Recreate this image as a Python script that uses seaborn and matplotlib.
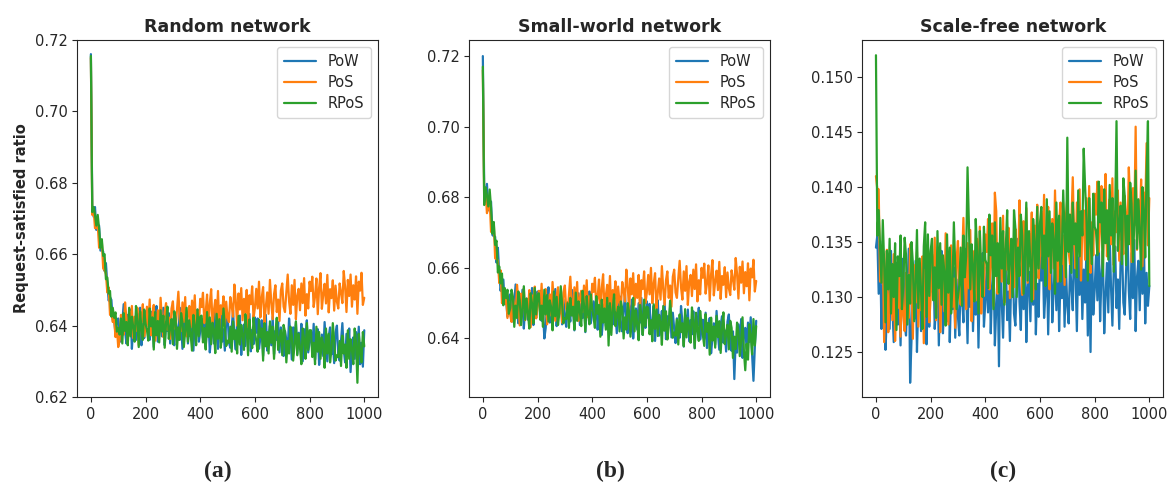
import matplotlib
matplotlib.use("Agg")
import matplotlib.pyplot as plt
import pandas as pd
import numpy as np
import seaborn as sns

sns.set_style("ticks")
plt.rcParams['font.family'] = ['DejaVu Sans']

## Simulation steps (sampled every 5 steps)
steps = [0] + list(range(5, 1001, 5))

methods = ["PoW", "PoS", "RPoS"]
colors = ["#1f77b4", "#ff7f0e", "#2ca02c"]

## Random network, ratio x 10000
rand_pow = [7160,
    6737, 6705, 6732, 6668, 6680, 6680, 6610, 6613, 6607, 6553, 6575, 6518, 6470, 6480, 6472, 6415, 6417, 6378, 6415, 6420,
    6370, 6355, 6410, 6460, 6385, 6350, 6430, 6375, 6445, 6335, 6400, 6420, 6360, 6435, 6380, 6450, 6345, 6405, 6365, 6440,
    6405, 6445, 6360, 6390, 6440, 6340, 6415, 6455, 6355, 6395, 6425, 6370, 6450, 6345, 6410, 6385, 6435, 6350, 6420, 6375,
    6345, 6415, 6390, 6360, 6450, 6405, 6335, 6425, 6380, 6440, 6350, 6410, 6370, 6435, 6330, 6420, 6395, 6445, 6355, 6385,
    6420, 6365, 6440, 6340, 6395, 6425, 6325, 6370, 6410, 6350, 6445, 6380, 6335, 6405, 6430, 6355, 6390, 6330, 6415, 6435,
    6353, 6338, 6393, 6443, 6368, 6333, 6413, 6358, 6428, 6318, 6383, 6403, 6343, 6418, 6363, 6433, 6328, 6388, 6348, 6423,
    6380, 6420, 6335, 6365, 6415, 6315, 6390, 6430, 6330, 6370, 6400, 6345, 6425, 6320, 6385, 6360, 6410, 6325, 6395, 6350,
    6315, 6385, 6360, 6330, 6420, 6375, 6305, 6395, 6350, 6410, 6320, 6380, 6340, 6405, 6300, 6390, 6365, 6415, 6325, 6355,
    6385, 6330, 6405, 6305, 6360, 6390, 6290, 6335, 6375, 6315, 6410, 6345, 6300, 6370, 6395, 6320, 6355, 6295, 6380, 6400,
    6317, 6302, 6357, 6407, 6332, 6297, 6377, 6322, 6392, 6270, 6347, 6367, 6307, 6382, 6327, 6397, 6292, 6352, 6285, 6387]
rand_pos = [7150,
    6710, 6725, 6673, 6673, 6682, 6618, 6635, 6635, 6560, 6555, 6545, 6493, 6507, 6430, 6442, 6410, 6420, 6368, 6397, 6340,
    6360, 6430, 6405, 6375, 6465, 6420, 6350, 6440, 6395, 6455, 6365, 6425, 6385, 6450, 6345, 6435, 6410, 6460, 6370, 6400,
    6453, 6398, 6473, 6373, 6428, 6458, 6358, 6403, 6443, 6383, 6478, 6413, 6368, 6438, 6463, 6388, 6423, 6363, 6448, 6468,
    6405, 6390, 6445, 6495, 6420, 6385, 6465, 6410, 6480, 6370, 6435, 6455, 6395, 6470, 6415, 6485, 6380, 6440, 6400, 6475,
    6452, 6492, 6407, 6437, 6487, 6387, 6462, 6502, 6402, 6442, 6472, 6417, 6497, 6392, 6457, 6432, 6482, 6397, 6467, 6422,
    6410, 6480, 6455, 6425, 6515, 6470, 6400, 6490, 6445, 6505, 6415, 6475, 6435, 6500, 6395, 6485, 6460, 6510, 6420, 6450,
    6503, 6448, 6523, 6423, 6478, 6508, 6408, 6453, 6493, 6433, 6528, 6463, 6418, 6488, 6513, 6438, 6473, 6413, 6498, 6518,
    6453, 6438, 6493, 6543, 6468, 6433, 6513, 6458, 6528, 6418, 6483, 6503, 6443, 6518, 6463, 6533, 6428, 6488, 6448, 6523,
    6497, 6537, 6452, 6482, 6532, 6432, 6507, 6547, 6447, 6487, 6517, 6462, 6542, 6437, 6502, 6477, 6527, 6442, 6512, 6467,
    6448, 6518, 6493, 6463, 6553, 6508, 6438, 6528, 6483, 6543, 6453, 6513, 6473, 6538, 6433, 6523, 6498, 6548, 6458, 6478]
rand_rpos = [7155,
    6718, 6732, 6710, 6680, 6710, 6672, 6618, 6642, 6595, 6600, 6530, 6535, 6490, 6497, 6425, 6450, 6422, 6437, 6383, 6393,
    6375, 6420, 6350, 6435, 6385, 6410, 6345, 6450, 6370, 6425, 6395, 6355, 6455, 6415, 6340, 6440, 6390, 6360, 6445, 6405,
    6388, 6358, 6448, 6398, 6423, 6333, 6438, 6373, 6413, 6353, 6443, 6383, 6428, 6338, 6408, 6453, 6363, 6393, 6418, 6348,
    6440, 6420, 6335, 6395, 6360, 6435, 6410, 6340, 6385, 6450, 6355, 6415, 6375, 6330, 6430, 6400, 6345, 6445, 6370, 6425,
    6428, 6353, 6393, 6333, 6438, 6368, 6423, 6348, 6408, 6388, 6323, 6433, 6363, 6418, 6338, 6373, 6448, 6398, 6343, 6358,
    6352, 6397, 6327, 6412, 6362, 6387, 6322, 6427, 6347, 6402, 6372, 6332, 6432, 6392, 6317, 6417, 6367, 6337, 6422, 6382,
    6357, 6327, 6417, 6367, 6392, 6302, 6407, 6342, 6382, 6322, 6412, 6352, 6397, 6307, 6377, 6422, 6332, 6362, 6387, 6317,
    6402, 6382, 6297, 6357, 6322, 6397, 6372, 6302, 6347, 6412, 6317, 6377, 6337, 6292, 6392, 6362, 6307, 6407, 6332, 6387,
    6387, 6312, 6352, 6292, 6397, 6327, 6382, 6307, 6367, 6347, 6282, 6392, 6322, 6377, 6297, 6332, 6407, 6357, 6302, 6317,
    6312, 6357, 6287, 6372, 6322, 6347, 6282, 6387, 6307, 6362, 6332, 6292, 6392, 6352, 6240, 6377, 6327, 6297, 6382, 6342]

## Small-world network, ratio x 10000
sw_pow = [7200,
    6825, 6791, 6838, 6763, 6787, 6788, 6693, 6690, 6688, 6615, 6657, 6586, 6535, 6564, 6567, 6499, 6514, 6462, 6516, 6525,
    6463, 6448, 6503, 6553, 6478, 6443, 6523, 6468, 6538, 6428, 6493, 6513, 6453, 6528, 6473, 6543, 6438, 6498, 6458, 6533,
    6495, 6535, 6450, 6480, 6400, 6430, 6505, 6545, 6445, 6485, 6515, 6460, 6540, 6435, 6500, 6475, 6525, 6440, 6510, 6465,
    6433, 6503, 6478, 6448, 6538, 6493, 6423, 6513, 6468, 6528, 6438, 6498, 6458, 6523, 6418, 6508, 6483, 6533, 6443, 6473,
    6505, 6450, 6525, 6425, 6480, 6510, 6410, 6455, 6495, 6435, 6530, 6465, 6420, 6490, 6515, 6440, 6475, 6415, 6500, 6520,
    6435, 6420, 6475, 6525, 6450, 6415, 6495, 6440, 6510, 6400, 6465, 6485, 6425, 6500, 6445, 6515, 6410, 6470, 6430, 6505,
    6458, 6498, 6413, 6443, 6493, 6393, 6468, 6508, 6408, 6448, 6478, 6423, 6503, 6398, 6463, 6438, 6488, 6403, 6473, 6428,
    6387, 6457, 6432, 6402, 6492, 6447, 6377, 6467, 6422, 6482, 6392, 6452, 6412, 6477, 6372, 6462, 6437, 6487, 6397, 6427,
    6453, 6398, 6473, 6373, 6428, 6458, 6358, 6403, 6443, 6383, 6478, 6413, 6368, 6438, 6463, 6388, 6423, 6363, 6448, 6468,
    6380, 6365, 6420, 6285, 6395, 6360, 6440, 6385, 6455, 6345, 6410, 6430, 6370, 6445, 6390, 6460, 6355, 6280, 6375, 6450]
sw_pos = [7160,
    6787, 6820, 6755, 6771, 6792, 6702, 6729, 6727, 6627, 6625, 6621, 6557, 6593, 6500, 6530, 6498, 6523, 6458, 6503, 6466,
    6447, 6517, 6492, 6462, 6552, 6507, 6437, 6527, 6482, 6542, 6452, 6512, 6472, 6537, 6432, 6522, 6497, 6547, 6457, 6487,
    6535, 6480, 6555, 6455, 6510, 6540, 6440, 6485, 6525, 6465, 6560, 6495, 6450, 6520, 6545, 6470, 6505, 6445, 6530, 6550,
    6485, 6470, 6525, 6575, 6500, 6465, 6545, 6490, 6560, 6450, 6515, 6535, 6475, 6550, 6495, 6565, 6460, 6520, 6480, 6555,
    6532, 6572, 6487, 6517, 6567, 6467, 6542, 6582, 6482, 6522, 6552, 6497, 6577, 6472, 6537, 6512, 6562, 6477, 6547, 6502,
    6490, 6560, 6535, 6505, 6595, 6550, 6480, 6570, 6525, 6585, 6495, 6555, 6515, 6580, 6475, 6565, 6540, 6590, 6500, 6530,
    6580, 6525, 6600, 6500, 6555, 6585, 6485, 6530, 6570, 6510, 6605, 6540, 6495, 6565, 6590, 6515, 6550, 6490, 6575, 6595,
    6530, 6515, 6570, 6620, 6545, 6510, 6590, 6535, 6605, 6495, 6560, 6580, 6520, 6595, 6540, 6610, 6505, 6565, 6525, 6600,
    6572, 6612, 6527, 6557, 6607, 6507, 6582, 6622, 6522, 6562, 6592, 6537, 6617, 6512, 6577, 6552, 6602, 6517, 6587, 6542,
    6523, 6593, 6568, 6538, 6628, 6583, 6513, 6603, 6558, 6618, 6528, 6588, 6548, 6613, 6508, 6598, 6573, 6623, 6533, 6563]
sw_rpos = [7170,
    6778, 6828, 6805, 6774, 6822, 6770, 6697, 6730, 6665, 6677, 6587, 6604, 6556, 6584, 6494, 6543, 6514, 6538, 6470, 6486,
    6538, 6518, 6433, 6493, 6458, 6533, 6508, 6438, 6483, 6548, 6453, 6513, 6473, 6428, 6528, 6498, 6443, 6543, 6468, 6523,
    6528, 6453, 6493, 6433, 6538, 6468, 6523, 6448, 6508, 6488, 6423, 6533, 6463, 6518, 6438, 6473, 6548, 6498, 6443, 6458,
    6455, 6500, 6430, 6515, 6465, 6490, 6425, 6530, 6450, 6505, 6475, 6435, 6535, 6495, 6420, 6520, 6470, 6440, 6525, 6485,
    6460, 6430, 6520, 6470, 6495, 6405, 6510, 6445, 6485, 6425, 6515, 6380, 6500, 6410, 6480, 6525, 6435, 6465, 6490, 6420,
    6505, 6485, 6400, 6460, 6425, 6500, 6475, 6405, 6450, 6515, 6420, 6480, 6440, 6395, 6495, 6465, 6410, 6510, 6435, 6490,
    6487, 6412, 6452, 6392, 6497, 6427, 6482, 6407, 6467, 6447, 6382, 6492, 6422, 6477, 6397, 6432, 6507, 6457, 6402, 6417,
    6408, 6453, 6383, 6468, 6418, 6443, 6378, 6483, 6403, 6458, 6428, 6388, 6488, 6448, 6373, 6473, 6423, 6393, 6478, 6438,
    6409, 6379, 6469, 6419, 6444, 6354, 6459, 6394, 6434, 6374, 6464, 6404, 6449, 6359, 6429, 6474, 6384, 6414, 6439, 6369,
    6450, 6430, 6345, 6405, 6370, 6445, 6420, 6350, 6395, 6460, 6365, 6310, 6385, 6340, 6440, 6410, 6355, 6455, 6380, 6435]

## Scale-free network, ratio x 10000
sf_pow = [1345,
    1356, 1303, 1351, 1271, 1308, 1327, 1252, 1286, 1316, 1271, 1342, 1293, 1259, 1312, 1331, 1275, 1301, 1256, 1319, 1335,
    1276, 1265, 1306, 1344, 1222, 1261, 1321, 1280, 1333, 1250, 1299, 1314, 1269, 1325, 1284, 1336, 1257, 1303, 1273, 1329,
    1305, 1335, 1271, 1293, 1331, 1256, 1312, 1342, 1267, 1297, 1319, 1278, 1338, 1259, 1308, 1289, 1327, 1263, 1316, 1282,
    1265, 1318, 1299, 1277, 1344, 1310, 1258, 1325, 1291, 1337, 1269, 1314, 1284, 1333, 1254, 1321, 1303, 1340, 1273, 1295,
    1327, 1286, 1342, 1267, 1309, 1331, 1256, 1290, 1320, 1237, 1346, 1297, 1263, 1316, 1335, 1279, 1305, 1260, 1323, 1339,
    1285, 1274, 1315, 1353, 1296, 1270, 1330, 1289, 1342, 1259, 1308, 1323, 1278, 1334, 1293, 1345, 1266, 1312, 1282, 1338,
    1315, 1345, 1281, 1303, 1341, 1266, 1322, 1352, 1277, 1307, 1329, 1288, 1348, 1269, 1318, 1299, 1337, 1273, 1326, 1292,
    1276, 1329, 1310, 1288, 1355, 1321, 1269, 1336, 1302, 1348, 1280, 1325, 1295, 1344, 1265, 1332, 1250, 1351, 1284, 1306,
    1338, 1297, 1353, 1278, 1320, 1342, 1267, 1301, 1331, 1286, 1357, 1308, 1274, 1327, 1346, 1290, 1316, 1271, 1334, 1350,
    1295, 1284, 1325, 1363, 1306, 1280, 1340, 1299, 1352, 1269, 1318, 1333, 1288, 1344, 1303, 1355, 1276, 1322, 1292, 1310]
sf_pos = [1410,
    1398, 1398, 1314, 1316, 1339, 1259, 1313, 1343, 1268, 1298, 1320, 1279, 1339, 1260, 1309, 1290, 1328, 1264, 1317, 1283,
    1269, 1322, 1303, 1281, 1348, 1314, 1262, 1329, 1295, 1341, 1273, 1318, 1288, 1337, 1258, 1325, 1307, 1344, 1277, 1299,
    1339, 1298, 1354, 1279, 1321, 1343, 1268, 1302, 1332, 1287, 1358, 1309, 1275, 1328, 1347, 1291, 1317, 1272, 1335, 1351,
    1304, 1293, 1334, 1372, 1315, 1289, 1349, 1308, 1361, 1278, 1327, 1342, 1297, 1353, 1312, 1364, 1285, 1331, 1301, 1357,
    1341, 1371, 1307, 1329, 1367, 1292, 1395, 1378, 1303, 1333, 1355, 1314, 1374, 1295, 1344, 1325, 1363, 1299, 1352, 1318,
    1309, 1362, 1343, 1321, 1388, 1354, 1302, 1369, 1335, 1381, 1313, 1358, 1328, 1377, 1298, 1365, 1347, 1384, 1317, 1339,
    1378, 1337, 1393, 1318, 1360, 1382, 1307, 1341, 1371, 1326, 1397, 1348, 1314, 1367, 1386, 1330, 1356, 1311, 1374, 1390,
    1341, 1330, 1371, 1409, 1352, 1326, 1386, 1345, 1398, 1315, 1364, 1379, 1334, 1390, 1349, 1401, 1322, 1368, 1338, 1394,
    1375, 1405, 1341, 1363, 1401, 1326, 1382, 1412, 1337, 1367, 1389, 1348, 1408, 1329, 1378, 1359, 1397, 1333, 1386, 1352,
    1339, 1392, 1373, 1351, 1418, 1384, 1332, 1399, 1365, 1455, 1343, 1388, 1358, 1407, 1328, 1395, 1377, 1440, 1347, 1390]
sf_rpos = [1520,
    1356, 1379, 1345, 1313, 1370, 1331, 1277, 1342, 1307, 1353, 1285, 1330, 1300, 1349, 1270, 1337, 1319, 1356, 1289, 1311,
    1354, 1338, 1275, 1320, 1294, 1350, 1331, 1278, 1312, 1361, 1290, 1335, 1305, 1271, 1346, 1368, 1282, 1357, 1301, 1342,
    1353, 1297, 1327, 1281, 1360, 1308, 1349, 1293, 1338, 1323, 1274, 1357, 1304, 1345, 1285, 1311, 1368, 1330, 1289, 1300,
    1311, 1345, 1292, 1356, 1318, 1337, 1418, 1367, 1307, 1348, 1326, 1296, 1371, 1341, 1285, 1360, 1322, 1300, 1364, 1334,
    1330, 1308, 1375, 1338, 1356, 1289, 1368, 1319, 1349, 1304, 1372, 1326, 1360, 1293, 1345, 1379, 1312, 1334, 1353, 1300,
    1379, 1363, 1300, 1345, 1319, 1375, 1356, 1303, 1337, 1386, 1315, 1360, 1330, 1296, 1371, 1349, 1307, 1382, 1326, 1367,
    1382, 1326, 1356, 1310, 1389, 1337, 1378, 1322, 1367, 1352, 1303, 1386, 1333, 1374, 1314, 1340, 1397, 1359, 1318, 1445,
    1341, 1375, 1322, 1386, 1348, 1367, 1318, 1397, 1337, 1378, 1356, 1435, 1401, 1371, 1315, 1390, 1352, 1330, 1394, 1364,
    1360, 1338, 1405, 1368, 1386, 1319, 1398, 1349, 1379, 1334, 1402, 1356, 1390, 1323, 1375, 1460, 1342, 1364, 1383, 1330,
    1408, 1392, 1329, 1374, 1348, 1404, 1385, 1332, 1366, 1415, 1344, 1389, 1359, 1325, 1400, 1378, 1336, 1411, 1460, 1310]

panels = [
    ("Random network", [rand_pow, rand_pos, rand_rpos], (0.62, 0.72), "(a)"),
    ("Small-world network", [sw_pow, sw_pos, sw_rpos], (0.6234, 0.7246), "(b)"),
    ("Scale-free network", [sf_pow, sf_pos, sf_rpos], (0.1209, 0.1534), "(c)"),
]


def make_frame(series):
    frames = []
    for name, vals in zip(methods, series):
        frames.append(pd.DataFrame({"step": steps,
                                    "ratio": np.array(vals) / 10000.0,
                                    "method": name}))
    return pd.concat(frames, ignore_index=True)


fig = plt.figure(figsize=(11.7, 4.86), dpi=100)
lefts = [0.066, 0.401, 0.737]
width = 0.257

for i, (title, series, ylim, tag) in enumerate(panels):
    ax = fig.add_axes([lefts[i], 0.183, width, 0.735])
    df = make_frame(series)
    sns.lineplot(data=df, x="step", y="ratio", hue="method",
                 palette=colors, linewidth=1.6, ax=ax)
    ax.set_ylim(*ylim)
    ax.set_xlim(-50, 1050)
    ax.set_xticks([0, 200, 400, 600, 800, 1000])
    ax.set_title(title, fontsize=12.5, fontweight="bold", pad=6)
    ax.set_xlabel("")
    ax.set_ylabel("")
    ax.tick_params(labelsize=10.5)
    handles, labels = ax.get_legend_handles_labels()
    ax.legend(handles, labels, loc="upper right", fontsize=10.5,
              handlelength=2.2, borderpad=0.45, labelspacing=0.42)
    fig.text(lefts[i] + width / 2 - 0.008, 0.03, tag, ha="center", va="center",
             fontsize=17, fontweight="bold", family="Liberation Serif")

fig.axes[0].set_ylabel("Request-satisfied ratio", fontsize=10.5, fontweight="bold")
fig.axes[1].set_yticks([0.64, 0.66, 0.68, 0.70, 0.72])
fig.axes[2].set_yticks([0.125, 0.130, 0.135, 0.140, 0.145, 0.150])

fig.savefig("out.png", dpi=100)
